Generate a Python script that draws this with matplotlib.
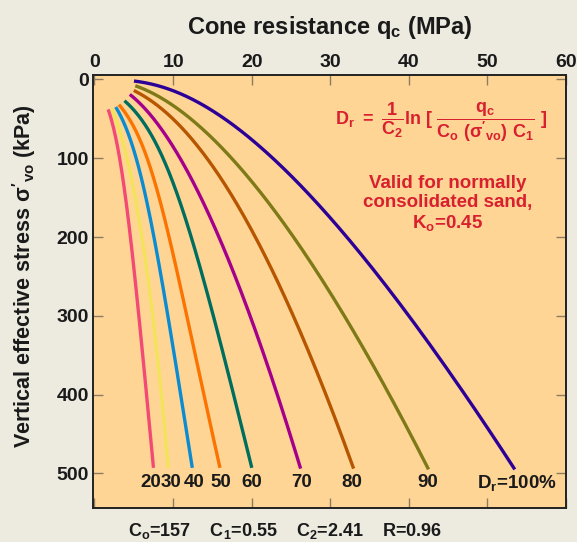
import matplotlib
matplotlib.use("Agg")
import numpy as np
import matplotlib.pyplot as plt

plt.rcParams['font.family'] = ['Liberation Sans', 'DejaVu Sans']
plt.rcParams['font.weight'] = 'bold'
plt.rcParams['mathtext.fontset'] = 'custom'
plt.rcParams['mathtext.rm'] = 'Liberation Sans:bold'
plt.rcParams['mathtext.bf'] = 'Liberation Sans:bold'
plt.rcParams['mathtext.it'] = 'Liberation Sans:bold'

# relative density curves (stress kPa, qc MPa)
dr_names = ['20', '30', '40', '50', '60', '70', '80', '90', '100']
sv_20 = [38, 70, 100, 144, 200, 301, 400, 493]
qc_20 = [1.75, 2.6, 3.2, 3.9, 4.6, 5.6, 6.6, 7.55]
sv_30 = [37, 66, 96, 144, 200, 301, 400, 493]
qc_30 = [2.2, 3.2, 4.1, 5.0, 6.1, 7.4, 8.5, 9.4]
sv_40 = [35, 58, 87, 117, 144, 200, 301, 400, 493]
qc_40 = [2.7, 3.9, 4.9, 5.7, 6.4, 7.7, 9.3, 10.9, 12.5]
sv_50 = [32, 54, 79, 108, 144, 166, 200, 301, 400, 493]
qc_50 = [3.1, 4.7, 5.9, 7.0, 7.9, 8.6, 9.6, 11.9, 13.9, 15.9]
sv_60 = [27, 45, 70, 104, 128, 153, 200, 229, 301, 335, 400, 493]
qc_60 = [3.8, 5.6, 7.2, 8.8, 9.8, 10.8, 12.4, 13.3, 15.1, 16.0, 17.7, 20.0]
sv_70 = [19, 37, 62, 96, 128, 144, 185, 229, 288, 347, 405, 494]
qc_70 = [4.5, 6.4, 8.5, 10.7, 12.3, 13.1, 15.3, 17.2, 19.4, 21.4, 23.3, 26.3]
sv_80 = [14, 37, 66, 92, 121, 146, 178, 212, 250, 305, 365, 424, 494]
qc_80 = [5.0, 8.5, 11.8, 13.6, 15.5, 17.2, 19.2, 21.2, 23.3, 25.8, 28.1, 30.2, 32.8]
sv_90 = [8, 24, 54, 73, 96, 110, 128, 150, 182, 212, 240, 288, 331, 390, 440, 495]
qc_90 = [5.2, 8.5, 13.0, 14.9, 16.9, 18.2, 19.8, 21.5, 24.0, 26.2, 28.1, 31.3, 33.8,
         37.0, 39.7, 42.2]
sv_100 = [2, 5, 9, 14, 26, 45, 58, 75, 100, 128, 151, 170, 197, 216, 244, 267, 297,
          322, 360, 403, 445, 495]
qc_100 = [5.1, 6.6, 8.5, 10.0, 12.8, 16.2, 17.8, 19.7, 22.2, 25.1, 27.6, 29.4, 31.8,
          33.4, 35.8, 37.7, 40.1, 42.0, 44.6, 47.4, 50.0, 53.2]

stress_sets = [sv_20, sv_30, sv_40, sv_50, sv_60, sv_70, sv_80, sv_90, sv_100]
qc_sets = [qc_20, qc_30, qc_40, qc_50, qc_60, qc_70, qc_80, qc_90, qc_100]
colors = ['#f24a74', '#f3e35a', '#0a8bd2', '#fb7300', '#006e5e',
          '#a4008a', '#b65600', '#7e7a18', '#2c0096']


def smooth_line(sv, qc):
    # least-squares cubic in log-log space, only to draw a smooth line through the read points
    ls, lq = np.log(sv), np.log(qc)
    p = np.polyfit(ls, lq, 3)
    t = np.linspace(ls[0], ls[-1], 200)
    return np.exp(np.polyval(p, t)), np.exp(t)


fig = plt.figure(figsize=(5.77, 5.42), dpi=100, facecolor='#edeae0')
ax = fig.add_axes([0.161, 0.0627, 0.82, 0.799])
ax.set_facecolor('#ffd596')

for sv, qc, c in zip(stress_sets, qc_sets, colors):
    xs, ys = smooth_line(sv, qc)
    ax.plot(xs, ys, color=c, lw=2.4, solid_capstyle='butt')

# curve labels at the bottom
nudge = [-0.4, 0.4, 0.2, 0.2, 0, 0, 0, 0.2, 0.6]
for name, qc, dx in zip(dr_names, qc_sets, nudge):
    txt = name if name != '100' else r'D$_{\mathregular{r}}$=100%'
    ax.text(qc[-1] + dx, 512, txt, ha='center', va='center',
            fontsize=13.5, fontweight='bold', color='#1a1a1a')

ax.set_xlim(-0.2, 59.8)
ax.set_ylim(544, -5.7)
ax.set_xticks([0, 10, 20, 30, 40, 50, 60])
ax.set_yticks([0, 100, 200, 300, 400, 500])
ax.xaxis.tick_top()
ax.tick_params(axis='x', top=True, bottom=True, labeltop=True, labelbottom=False)
ax.tick_params(axis='y', left=True, right=True)
ax.tick_params(direction='in', length=7, width=1, color='#8c7b5e',
               labelsize=14, pad=3, labelcolor='#1a1a1a')
for lab in ax.get_xticklabels() + ax.get_yticklabels():
    lab.set_fontweight('bold')
for sp in ax.spines.values():
    sp.set_color('#222222')
    sp.set_linewidth(1.4)

fig.text(0.572, 0.949, r'Cone resistance q$_{\mathregular{c}}$ (MPa)',
         ha='center', va='center', fontsize=17, fontweight='bold', color='#1a1a1a')
fig.text(0.042, 0.49, r"Vertical effective stress $\sigma'_{\mathregular{vo}}$ (kPa)",
         ha='center', va='center', rotation=90, fontsize=15.5,
         fontweight='bold', color='#1a1a1a')

red = '#d8202e'
ax.text(0.736, 0.89,
        r"$\mathregular{D_r\ =\ \dfrac{1}{C_2}ln\ [\ \dfrac{q_c}{C_o\ (\sigma'_{vo})\ C_1}\ ]}$",
        transform=ax.transAxes, ha='center', va='center', fontsize=13,
        color=red)
ax.text(0.75, 0.702, 'Valid for normally\nconsolidated sand,\n' + r'K$_{\mathregular{o}}$=0.45',
        transform=ax.transAxes, ha='center', va='center', fontsize=13.5,
        fontweight='bold', color=red, linespacing=1.12)

fig.text(0.494, 0.02,
         r'C$_{\mathregular{o}}$=157    C$_{\mathregular{1}}$=0.55    C$_{\mathregular{2}}$=2.41    R=0.96',
         ha='center', va='center', fontsize=13, fontweight='bold', color='#1a1a1a')

fig.savefig('out.png', dpi=100, facecolor=fig.get_facecolor())
